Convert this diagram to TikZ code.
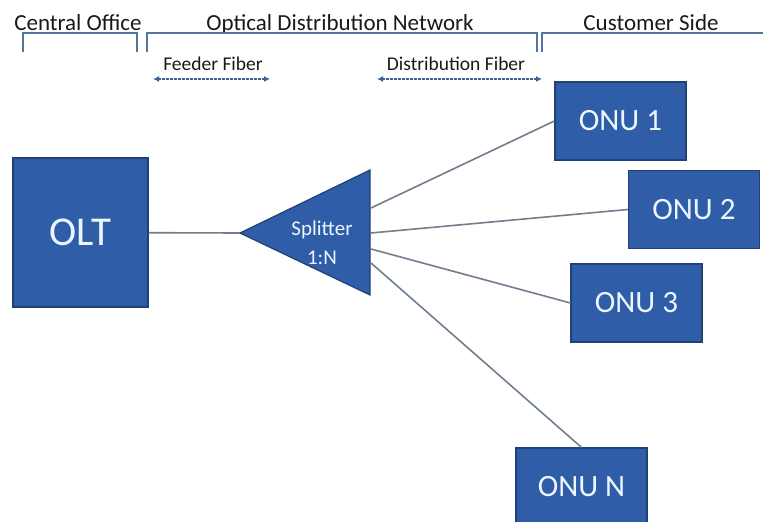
\documentclass[tikz,border=0pt]{standalone}
\usepackage{fontspec}
\setmainfont{Carlito}
\usetikzlibrary{arrows.meta}
\definecolor{ponblue}{RGB}{47,93,168}
\definecolor{ponedge}{RGB}{33,64,118}
\definecolor{boxtext}{RGB}{236,246,255}
\definecolor{fibergray}{RGB}{112,126,142}
\definecolor{bracketblue}{RGB}{84,116,162}
\definecolor{arrowblue}{RGB}{62,100,148}

\begin{document}
\begin{tikzpicture}[x=1pt,y=-1pt,
  unitbox/.style={draw=ponedge,line width=1.2pt,fill=ponblue,text=boxtext,inner sep=0pt},
  fiber/.style={draw=fibergray,line width=1.6pt},
  bracket/.style={draw=bracketblue,line width=1.9pt},
  span/.style={draw=arrowblue,line width=1.3pt,dash pattern=on 2.5pt off 1.5pt,
    {Latex[length=6pt,width=6pt]}-{Latex[length=6pt,width=6pt]}},
  head/.style={font=\fontsize{23}{27}\selectfont,text=black!90,anchor=base},
  sub/.style={font=\fontsize{19.5}{23}\selectfont,text=black!90,anchor=base}]
\clip (0,0) rectangle (763,522);

\node[head] (co) at (78,30) {Central Office};
\node[head] (odn) at (340,30) {Optical Distribution Network};
\node[head] (cs) at (651,30) {Customer Side};
\draw[bracket] (23,52) -- (23,33) -- (137,33) -- (137,52);
\draw[bracket] (147,52) -- (147,33) -- (537,33) -- (537,52);
\draw[bracket] (542,52) -- (542,33) -- (763,33);

\node[sub] (feeder) at (213,70) {Feeder Fiber};
\node[sub] (dist) at (456,70) {Distribution Fiber};
\coordinate (ff a) at (153,79);
\coordinate (ff b) at (270,79);
\coordinate (df a) at (377,79);
\coordinate (df b) at (542,79);
\draw[span] (ff a) -- (ff b);
\draw[span] (df a) -- (df b);

\node[unitbox,minimum width=135pt,minimum height=149pt,font=\fontsize{41}{45}\selectfont] (olt) at (80.5,232.5) {OLT};

\coordinate (sp tip) at (240,233);
\fill[ponblue,draw=ponedge,line width=1.2pt] (sp tip) -- (370,170) -- (370,295) -- cycle;
\node[text=boxtext,align=center,font=\fontsize{21}{29}\selectfont] (split) at (322,243) {Splitter\\1:N};
\coordinate (sp1) at (371,208);
\coordinate (sp2) at (371,233);
\coordinate (sp3) at (371,249);
\coordinate (sp4) at (371,263);

\foreach \n/\pos/\lab in {1/{620.5,121}/ONU 1,2/{694,209.5}/ONU 2,3/{636.5,303}/ONU 3,N/{581.5,487}/ONU N}
  \node[unitbox,minimum width=131pt,minimum height=78pt,font=\fontsize{31}{35}\selectfont] (onu\n) at (\pos) {\lab};

\draw[fiber] (olt) -- (sp tip);
\draw[fiber] (sp1) -- (onu1.west);
\draw[fiber] (sp2) -- (onu2.west);
\draw[fiber] (sp3) -- (onu3.west);
\draw[fiber] (sp4) -- (onuN.north);
\end{tikzpicture}
\end{document}
